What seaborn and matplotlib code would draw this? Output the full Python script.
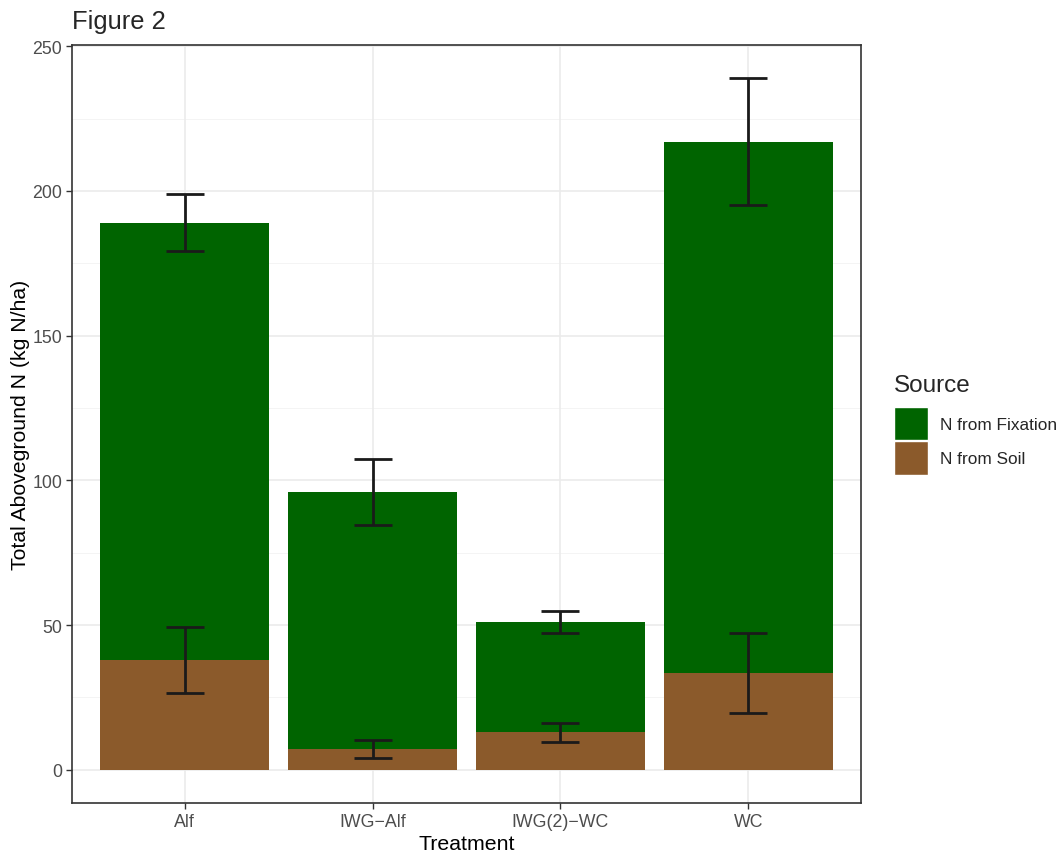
import numpy as np
import pandas as pd
import matplotlib
matplotlib.use("Agg")
import matplotlib.pyplot as plt
from matplotlib.patches import Patch
import seaborn as sns

# Aboveground N by treatment (kg N/ha)
treatments = ["Alf", "IWG\u2212Alf", "IWG(2)\u2212WC", "WC"]
total_n = [189.0, 96.0, 51.2, 217.1]
total_se = [9.8, 11.4, 3.8, 21.8]
soil_n = [37.8, 7.3, 12.9, 33.3]
soil_se = [11.4, 3.1, 3.3, 13.8]
sources = ["N from Fixation", "N from Soil"]
colors = {"N from Fixation": "#006400", "N from Soil": "#8B5A2B"}

df = pd.DataFrame({"Treatment": treatments, "total": total_n, "total_se": total_se,
                   "soil": soil_n, "soil_se": soil_se})

sns.set_theme(style="white")
plt.rcParams["font.family"] = ["Liberation Sans", "DejaVu Sans"]

W, H = 1059, 853
fig = plt.figure(figsize=(W / 100, H / 100), dpi=100)
ax = fig.add_axes([72 / W, 1 - 804 / H, (861 - 72) / W, (804 - 46) / H])

# grid (theme_bw style)
for y in np.arange(25, 250, 50):
    ax.axhline(y, color="#f2f2f2", lw=0.6, zorder=0)
for y in np.arange(0, 251, 50):
    ax.axhline(y, color="#ebebeb", lw=1.2, zorder=0)
for x in range(len(treatments)):
    ax.axvline(x, color="#ebebeb", lw=1.2, zorder=0)

# stacked bars: full height in green, soil portion drawn over it in brown
sns.barplot(data=df, x="Treatment", y="total", color=colors["N from Fixation"],
            width=0.9, saturation=1, ax=ax, zorder=2, linewidth=0)
sns.barplot(data=df, x="Treatment", y="soil", color=colors["N from Soil"],
            width=0.9, saturation=1, ax=ax, zorder=3, linewidth=0)

xs = np.arange(len(treatments))
err_kw = dict(fmt="none", ecolor="#1a1a1a", elinewidth=2.0, capsize=13.7, capthick=2.0, zorder=4)
ax.errorbar(xs, df["total"], yerr=df["total_se"], **err_kw)
ax.errorbar(xs, df["soil"], yerr=df["soil_se"], **err_kw)

ax.set_xlim(-0.6, 3.6)
ax.set_ylim(-11.5, 250.45)
ax.set_yticks(np.arange(0, 251, 50))
for s in ax.spines.values():
    s.set_color("#333333")
    s.set_linewidth(1.2)
ax.tick_params(axis="both", which="major", length=4, width=1, color="#333333",
               labelsize=12.8, labelcolor="#4d4d4d", bottom=True, left=True, pad=3)
ax.set_xlabel("Treatment", fontsize=15.3, color="black", labelpad=3)
ax.set_ylabel("Total Aboveground N (kg N/ha)", fontsize=15.3, color="black", labelpad=2)

fig.text(72 / W, 1 - 22 / H, "Figure 2", fontsize=18.4, ha="left", va="center")

# legend: title and keys
fig.text(894 / W, 1 - 386 / H, "Source", fontsize=17.5, ha="left", va="center")
handles = [Patch(facecolor=colors[s], edgecolor="white", linewidth=1.0, label=s) for s in sources]
leg = fig.legend(handles=handles, loc="upper left",
                 bbox_to_anchor=(894 / W, 1 - 408 / H), frameon=False,
                 fontsize=12.4, handlelength=2.0, handleheight=2.6,
                 handletextpad=0.65, labelspacing=0.05, borderaxespad=0, borderpad=0)

fig.savefig("out.png", dpi=100)
